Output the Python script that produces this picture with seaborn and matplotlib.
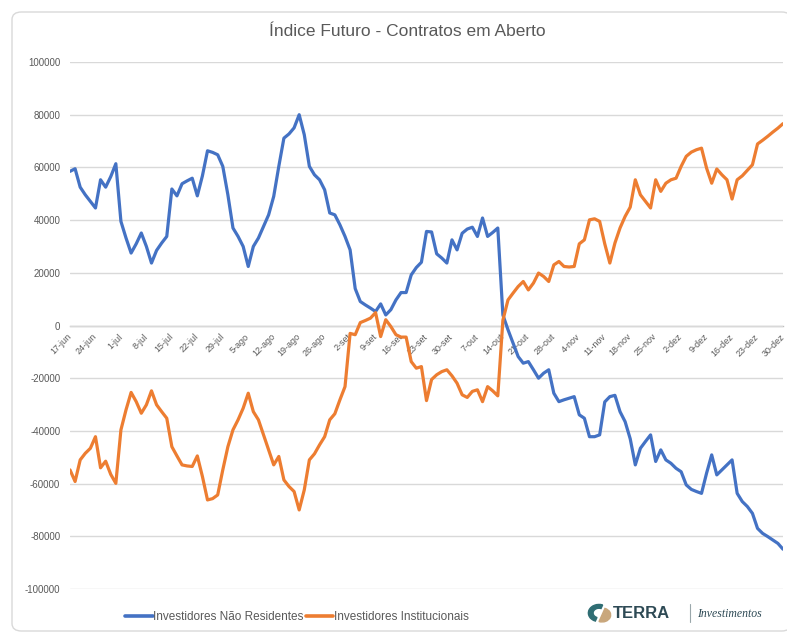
import numpy as np
import pandas as pd
import seaborn as sns
import matplotlib.pyplot as plt
from matplotlib.patches import FancyBboxPatch, Wedge
from matplotlib.lines import Line2D

# Dias úteis 17-jun-2019 a 30-dez-2019 (eixo de categorias)
datas = pd.bdate_range("2019-06-17", "2019-12-30")

# Contratos em aberto (milhares)
nao_residentes = [
    58.5, 59.5, 52.5, 49.6, 47.1, 44.6, 55.3, 52.5, 56.5, 61.4,
    39.5, 33.2, 27.5, 31.0, 35.1, 30.0, 23.7, 28.5, 31.3, 33.8,
    51.8, 49.2, 53.8, 54.9, 55.9, 49.2, 56.8, 66.3, 65.7, 64.8,
    60.4, 49.6, 37.0, 33.8, 30.0, 22.4, 30.0, 33.2, 37.6, 42.0,
    49.0, 60.4, 71.1, 72.7, 75.0, 80.0, 72.4, 60.4, 57.2, 55.3,
    51.5, 42.7, 42.0, 38.2, 33.8, 28.7, 14.0, 9.1, 7.8, 6.6,
    5.3, 8.2, 4.0, 6.0, 9.7, 12.5, 12.5, 19.2, 22.0, 24.0,
    35.7, 35.5, 27.2, 25.6, 23.7, 32.5, 28.7, 35.0, 36.6, 37.3,
    33.8, 40.8, 33.8, 35.3, 37.0, 4.0, -1.6, -6.7, -11.8, -14.3,
    -13.7, -16.8, -20.0, -18.1, -16.8, -25.7, -28.9, -28.2, -27.6, -27.0,
    -33.9, -35.2, -42.2, -42.2, -41.5, -29.0, -27.0, -26.5, -32.7, -36.5,
    -43.0, -52.9, -46.6, -44.0, -41.5, -51.6, -47.2, -51.0, -52.3, -54.2,
    -55.5, -60.5, -62.2, -63.0, -63.7, -56.0, -49.1, -56.7, -54.8, -52.9,
    -51.0, -63.7, -66.8, -68.7, -71.3, -77.0, -78.9, -80.1, -81.4, -82.7,
    -84.9,
]
institucionais = [
    -54.8, -59.2, -51.0, -48.5, -46.6, -42.2, -54.0, -51.5, -56.5, -59.9,
    -39.6, -32.0, -25.4, -28.9, -33.3, -30.1, -24.8, -30.1, -32.7, -35.2,
    -46.0, -49.5, -52.9, -53.3, -53.5, -49.5, -57.3, -66.2, -65.7, -64.3,
    -54.8, -46.0, -39.6, -35.8, -31.4, -25.7, -32.7, -35.8, -41.5, -47.2,
    -52.9, -49.7, -58.6, -61.1, -63.0, -70.0, -62.4, -51.0, -48.7, -45.3,
    -42.2, -35.8, -33.5, -28.2, -23.2, -3.0, -3.5, 1.1, 1.9, 2.8,
    4.9, -4.2, 2.2, -0.4, -3.5, -4.4, -4.4, -13.7, -16.2, -15.6,
    -28.5, -20.5, -18.7, -17.5, -16.8, -19.1, -21.9, -26.3, -27.3, -25.0,
    -24.4, -28.9, -23.2, -24.8, -26.7, 2.0, 9.7, 12.3, 14.8, 16.7,
    13.5, 16.1, 19.9, 18.6, 16.7, 23.0, 24.3, 22.4, 22.2, 22.4,
    31.0, 32.5, 40.1, 40.5, 39.5, 31.0, 23.7, 31.3, 37.0, 41.4,
    44.9, 55.3, 49.6, 47.1, 44.6, 55.3, 50.9, 54.0, 55.3, 55.9,
    60.4, 64.2, 65.8, 66.7, 67.3, 59.7, 54.0, 59.4, 57.2, 55.3,
    48.0, 55.3, 56.8, 58.9, 61.0, 68.9, 70.3, 71.8, 73.4, 74.9,
    76.6,
]

meses = {6: "jun", 7: "jul", 8: "ago", 9: "set", 10: "out", 11: "nov", 12: "dez"}
y_ticks = [-100000, -80000, -60000, -40000, -20000, 0, 20000, 40000, 60000, 80000, 100000]

df = pd.DataFrame({
    "pos": np.arange(len(datas)),
    "nr": np.array(nao_residentes) * 1000,
    "inst": np.array(institucionais) * 1000,
})

sns.set_theme(style="white")
plt.rcParams["font.family"] = ["Liberation Sans Narrow", "Liberation Sans", "DejaVu Sans"]

cinza = "#595959"
fig = plt.figure(figsize=(7.87, 6.34), dpi=100)

# moldura arredondada
fig.patches.append(FancyBboxPatch((12 / 787, 3 / 634), 0.99, 1 - 15 / 634,
                                  boxstyle="round,pad=0,rounding_size=0.012",
                                  transform=fig.transFigure, facecolor="white",
                                  edgecolor="#d9d9d9", linewidth=1, zorder=-5))

ax = fig.add_axes([70 / 787, 1 - 589 / 634, (783 - 70) / 787, (589 - 62) / 634])
ax.set_facecolor("none")

for s in ["top", "right", "left"]:
    ax.spines[s].set_visible(False)
ax.spines["bottom"].set_position(("data", 0))
ax.spines["bottom"].set_color("#bfbfbf")
ax.spines["bottom"].set_linewidth(1)
ax.spines["bottom"].set_zorder(0.5)

sns.lineplot(data=df, x="pos", y="nr", ax=ax, color="#4472C4", linewidth=2.3,
             label="Investidores Não Residentes")
sns.lineplot(data=df, x="pos", y="inst", ax=ax, color="#ED7D31", linewidth=2.3,
             label="Investidores Institucionais")
ax.get_legend().remove()

ax.set_xlim(0, len(datas) - 1)
ax.set_ylim(-100000, 100000)
ax.set_xlabel("")
ax.set_ylabel("")

ax.set_yticks(y_ticks)
ax.set_yticklabels([str(v) for v in y_ticks])
ax.yaxis.grid(True, color="#d9d9d9", linewidth=1)
ax.tick_params(axis="y", length=0, pad=7, labelsize=7, labelcolor=cinza)

pos_ticks = df["pos"].values[::5]
ax.set_xticks(pos_ticks)
ax.tick_params(axis="x", length=4, width=0.8, color="#bfbfbf", direction="out",
               pad=3, labelsize=6.5, labelcolor=cinza)
ax.set_xticklabels([f"{d.day}-{meses[d.month]}" for d in datas[::5]],
                   rotation=45, ha="right", va="center", rotation_mode="anchor")

fig.text(407 / 787, 1 - 32 / 634, "Índice Futuro - Contratos em Aberto",
         ha="center", va="center", fontsize=12.5, color=cinza)

handles = [Line2D([], [], color="#4472C4", linewidth=2.6),
           Line2D([], [], color="#ED7D31", linewidth=2.6)]
fig.legend(handles, ["Investidores Não Residentes", "Investidores Institucionais"],
           loc="center", bbox_to_anchor=(297 / 787, 1 - 617 / 634), ncol=2,
           frameon=False, fontsize=8.5, handlelength=2.3, handletextpad=0.05,
           columnspacing=0.2, labelcolor=cinza)

# logotipo
fig.patches.append(Wedge((599 / 787, 1 - 613 / 634), 0.0135, 70, 250, width=0.006,
                         transform=fig.transFigure, color="#2f6d73"))
fig.patches.append(Wedge((602 / 787, 1 - 615 / 634), 0.011, 250, 430,
                         transform=fig.transFigure, color="#c9a77c"))
fig.text(613 / 787, 1 - 613 / 634, "TERRA", ha="left", va="center", fontsize=12,
         fontweight="bold", color="#2e4a55", family=["Liberation Sans", "DejaVu Sans"])
fig.add_artist(Line2D([690 / 787, 690 / 787], [1 - 604 / 634, 1 - 622 / 634],
                      color="#9aa7ab", linewidth=0.8, transform=fig.transFigure))
fig.text(697 / 787, 1 - 614 / 634, "Investimentos", ha="left", va="center",
         fontsize=8.5, style="italic", color="#2e4a55",
         family=["Liberation Serif", "DejaVu Serif"])

fig.savefig("out.png", dpi=100)
